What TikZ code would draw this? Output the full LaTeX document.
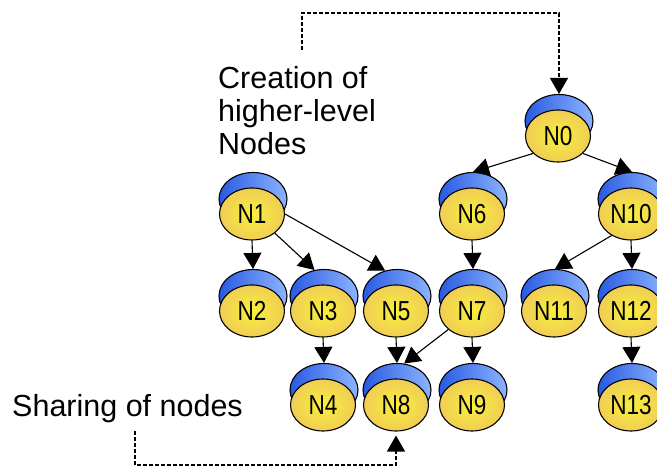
\documentclass[tikz,border=0pt]{standalone}
\usepackage{fontspec}
\setmainfont{Liberation Sans}
\newfontfamily\nodefont[FakeStretch=0.82]{Liberation Sans}
\usetikzlibrary{arrows.meta,shapes.geometric}
\definecolor{blueD}{RGB}{40,90,225}
\definecolor{blueL}{RGB}{140,180,255}
\definecolor{yelIn}{RGB}{248,240,60}
\definecolor{yelOut}{RGB}{240,205,85}
\newcommand\gnode[4]{%
  \node[dome] (#1b) at (#2+1,#3-15) {};
  \node[body] (#1) at (#2,#3) {#4};}
\begin{document}
\begin{tikzpicture}[x=1pt,y=-1pt,
  dome/.style={ellipse, minimum width=68pt, minimum height=53pt, inner sep=0pt,
    draw=black, line width=1.1pt, left color=blueD, right color=blueL},
  body/.style={ellipse, minimum width=65pt, minimum height=52pt, inner sep=0pt,
    draw=black, line width=1.1pt, inner color=yelIn, outer color=yelOut,
    font=\nodefont\fontsize{27.5}{29}\selectfont},
  arr/.style={line width=1.1pt, -{Triangle[width=18pt,length=16pt]}},
  dsh/.style={arr, dash pattern=on 4pt off 2pt, line width=1.3pt},
  lab/.style={font=\fontsize{30.5}{33}\selectfont, inner sep=0pt, align=left}
]
\fill[white] (0,0) rectangle (657,468);
\useasboundingbox (0,0) rectangle (657,468);
\clip (0,0) rectangle (657,468);

\gnode{N0}{558}{136}{N0}
\gnode{N1}{252}{214}{N1}
\gnode{N6}{472}{214}{N6}
\gnode{N10}{631}{214}{N10}
\gnode{N2}{252}{311}{N2}
\gnode{N3}{323}{311}{N3}
\gnode{N5}{396}{311}{N5}
\gnode{N7}{472}{311}{N7}
\gnode{N11}{554}{311}{N11}
\gnode{N12}{631}{311}{N12}
\gnode{N4}{323}{405}{N4}
\gnode{N8}{396}{405}{N8}
\gnode{N9}{472}{405}{N9}
\gnode{N13}{631}{405}{N13}

\draw[arr] (N0.215) -- (N6b.north);
\draw[arr] (N0.-35) -- (N10b.north);
\draw[arr] (N1.south) -- (N2b.north);
\draw[arr] (N1.-40) -- (N3b.110);
\draw[arr] (N1.east) -- (N5b.115);
\draw[arr] (N3.south) -- (N4b.north);
\draw[arr] (N5.south) -- (N8b.north);
\draw[arr] (N6.south) -- (N7b.north);
\draw[arr] (N7.218) -- (N8b.75);
\draw[arr] (N7.south) -- (N9b.north);
\draw[arr] (N10.228) -- (N11b.north);
\draw[arr] (N10.south) -- (N12b.north);
\draw[arr] (N12.south) -- (N13b.north);

\node[lab, anchor=north west] (creat) at (218,66) {Creation of\\higher-level\\Nodes};
\node[lab, anchor=base west] (share) at (12,416) {Sharing of nodes};

\coordinate (t1) at (302,50);
\coordinate (t2) at (0,13);
\draw[dsh] (t1) |- (N0b.north |- t2) -- (N0b.north);
\coordinate (b1) at (135,431);
\coordinate (b2) at (0,465);
\draw[dsh, shorten >=4pt] (b1) |- (N8.south |- b2) -- (N8.south);
\end{tikzpicture}
\end{document}
